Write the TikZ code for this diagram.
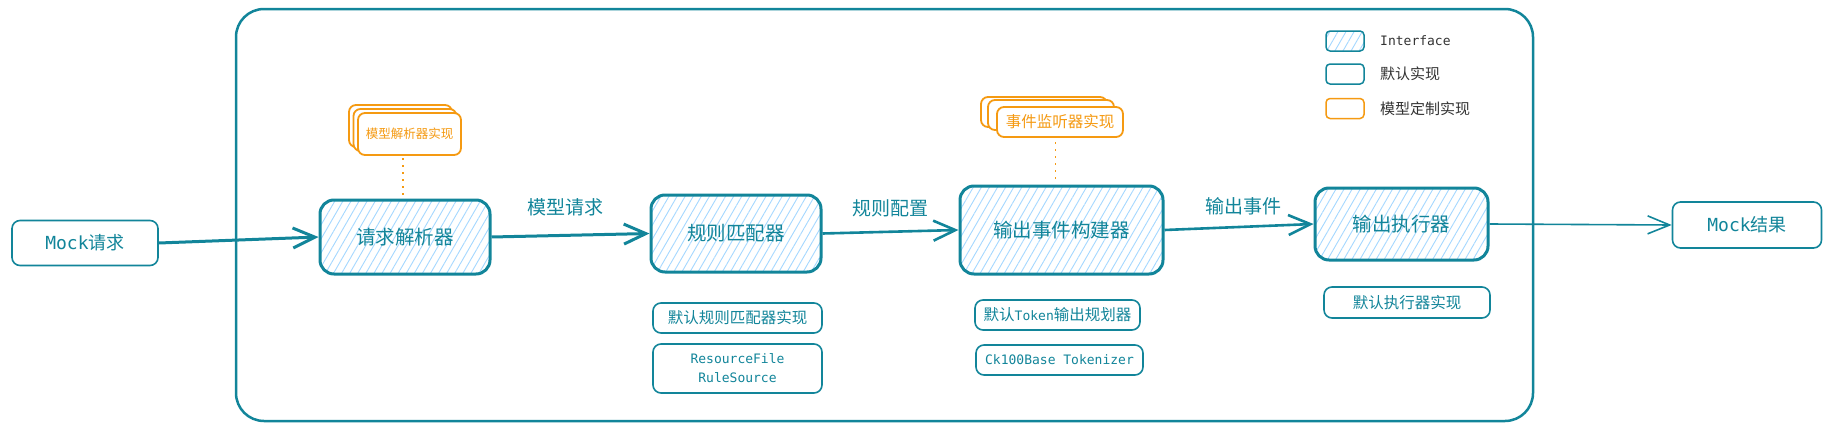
\documentclass[tikz,border=0pt]{standalone}
\usepackage{fontspec}
\setmainfont{Noto Sans CJK SC}
\newfontfamily\cjk{Noto Sans CJK SC}
\newfontfamily\mono{DejaVu Sans Mono}
\usetikzlibrary{arrows.meta,patterns.meta}
\definecolor{tealc}{HTML}{12859A}
\definecolor{hatchc}{HTML}{A5D8FF}
\definecolor{orangec}{HTML}{F59A12}
\definecolor{legendc}{HTML}{333333}
\tikzset{
  hatchfill/.style={preaction={fill=white},preaction={pattern={Lines[angle=60,distance=7pt,line width=0.9pt]},pattern color=hatchc}},
  iface/.style={hatchfill, draw=tealc, line width=3pt, rounded corners=14pt, text=tealc, inner sep=0pt, font=\cjk\fontsize{19.5}{22}\selectfont},
  plainbox/.style={draw=tealc, fill=white, line width=1.6pt, rounded corners=8pt, text=tealc, inner sep=0pt, align=center},
  endbox/.style={plainbox, font=\fontsize{18}{22}\selectfont},
  subbox/.style={plainbox, font=\fontsize{15.5}{18}\selectfont},
  monobox/.style={plainbox, font=\mono\fontsize{13}{19}\selectfont},
  obox/.style={draw=orangec, fill=white, line width=1.8pt, rounded corners=7pt, text=orangec, inner sep=0pt},
  lbl/.style={text=tealc, inner sep=0pt, font=\cjk\fontsize{19}{22}\selectfont},
  leglbl/.style={text=legendc, inner sep=0pt, anchor=west},
  legbox/.style={line width=1.5pt, rounded corners=4pt, minimum width=38pt, minimum height=20pt, inner sep=0pt},
  thickarr/.style={draw=tealc, line width=3pt, -{Straight Barb[length=22pt,width=20pt,line width=3pt]}},
  medarr/.style={draw=tealc, line width=2.6pt, -{Straight Barb[length=22pt,width=20pt,line width=2.6pt]}},
  thinarr/.style={draw=tealc, line width=1.6pt, -{Straight Barb[length=22pt,width=18pt,line width=1.6pt]}},
  dotline/.style={draw=orangec, line width=1.8pt, dash pattern=on 2pt off 5pt},
}
\begin{document}
\begin{tikzpicture}[x=1pt,y=-1pt]
\useasboundingbox (0,0) rectangle (1828,431);
% container
\draw[draw=tealc, line width=2.5pt, rounded corners=28pt] (236,9) rectangle (1533,421);

% end boxes
\node[endbox, minimum width=146pt, minimum height=45pt] (mockreq) at (85,243) {{\mono Mock}{\cjk 请求}};
\node[endbox, minimum width=149pt, minimum height=46pt] (mockres) at (1747,225) {{\mono Mock}{\cjk 结果}};

% interface boxes
\node[iface, minimum width=170pt, minimum height=74pt] (parser) at (405,237) {请求解析器};
\node[iface, minimum width=170pt, minimum height=77pt] (matcher) at (736,233.5) {规则匹配器};
\node[iface, minimum width=203pt, minimum height=88pt] (builder) at (1061.5,230) {输出事件构建器};
\node[iface, minimum width=173pt, minimum height=72pt] (executor) at (1401.5,224) {输出执行器};

% arrows
\draw[thickarr] (mockreq.east) -- (parser.west);
\draw[thickarr] (parser.east) -- (matcher.west);
\draw[medarr] (matcher.east) -- (builder.west);
\draw[medarr] (builder.east) -- (executor.west);
\draw[thinarr] (executor.east) -- (mockres.west);

% arrow labels
\node[lbl] (lab1) at (565,207) {模型请求};
\node[lbl] (lab2) at (890,208) {规则配置};
\node[lbl] (lab3) at (1243,206) {输出事件};

% orange stacks
\node[obox, minimum width=103pt, minimum height=42pt] (o1c) at (400.5,126) {};
\node[obox, minimum width=103pt, minimum height=42pt] (o1b) at (405,130) {};
\node[obox, minimum width=103pt, minimum height=42pt, font=\cjk\fontsize{12.5}{15}\selectfont] (o1) at (409.5,134) {模型解析器实现};
\node[obox, minimum width=126pt, minimum height=30pt] (o2c) at (1044,112) {};
\node[obox, minimum width=126pt, minimum height=30pt] (o2b) at (1051,115) {};
\node[obox, minimum width=126pt, minimum height=30pt, font=\cjk\fontsize{15.5}{18}\selectfont] (o2) at (1060,122) {事件监听器实现};

\draw[dotline] (parser.north) ++(-2,-4) -- ++(0,-37);
\draw[dotline] (builder.north) ++(-6,-6) -- ++(0,-37);

% sub boxes
\node[subbox, minimum width=169pt, minimum height=30pt] (s1) at (737.5,318) {默认规则匹配器实现};
\node[monobox, minimum width=169pt, minimum height=49pt] (s2) at (737.5,368.5) {ResourceFile\\RuleSource};
\node[subbox, minimum width=165pt, minimum height=30pt] (s3) at (1057.5,315) {默认{\mono\fontsize{13}{18}\selectfont Token}输出规划器};
\node[monobox, minimum width=167pt, minimum height=30pt] (s4) at (1059.5,360) {Ck100Base Tokenizer};
\node[subbox, minimum width=166pt, minimum height=31pt] (s5) at (1407,302.5) {默认执行器实现};

% legend
\node[legbox, hatchfill, draw=tealc] (lg1) at (1345,41) {};
\node[legbox, draw=tealc, fill=white] (lg2) at (1345,74) {};
\node[legbox, draw=orangec, fill=white] (lg3) at (1345,108.5) {};
\node[leglbl, font=\mono\fontsize{13}{16}\selectfont] (lt1) at (1380,41) {Interface};
\node[leglbl, font=\cjk\fontsize{15}{18}\selectfont] (lt2) at (1380,74) {默认实现};
\node[leglbl, font=\cjk\fontsize{15}{18}\selectfont] (lt3) at (1380,108.5) {模型定制实现};
\end{tikzpicture}
\end{document}
